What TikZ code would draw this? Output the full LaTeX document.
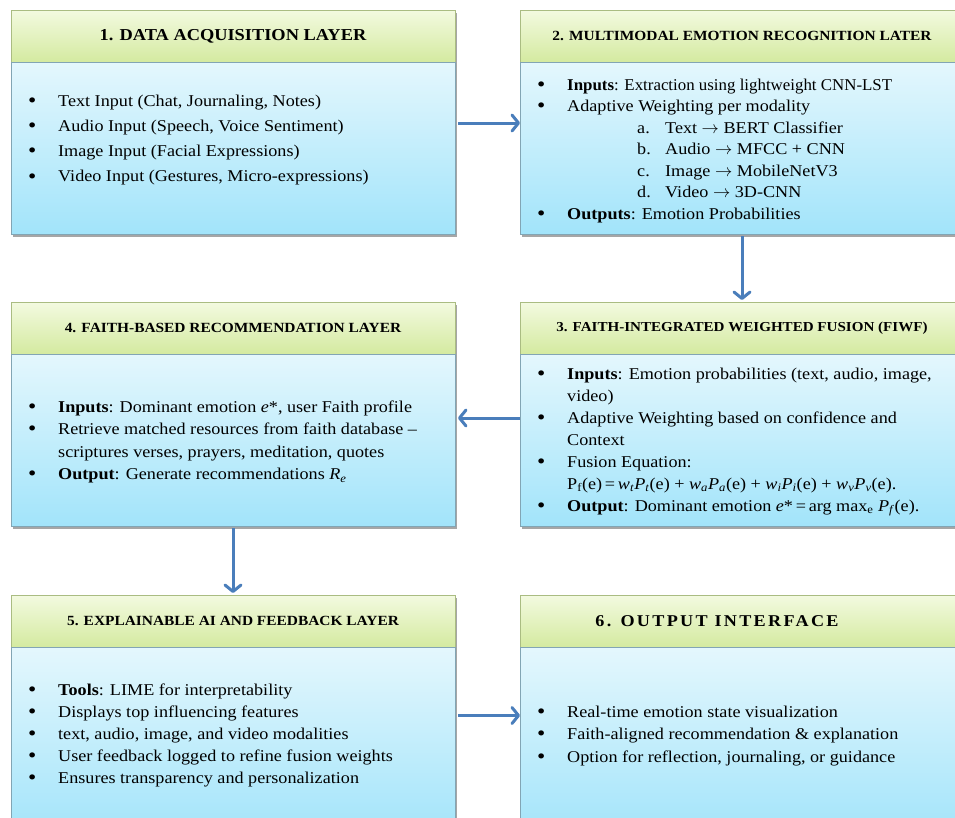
\documentclass[tikz,border=0pt]{standalone}
\usepackage{fontspec}
\setmainfont[FakeStretch=1.1]{Liberation Serif}
\usetikzlibrary{arrows.meta,shadows}

\definecolor{headTop}{RGB}{243,250,224}
\definecolor{headBot}{RGB}{212,234,160}
\definecolor{headLine}{RGB}{170,188,130}
\definecolor{bodyTop}{RGB}{228,247,253}
\definecolor{bodyBot}{RGB}{162,228,250}
\definecolor{bodyLine}{RGB}{130,165,180}
\definecolor{flowBlue}{RGB}{74,126,187}

\newcommand{\bul}{\makebox[30pt][l]{\raisebox{-0.07em}{\scalebox{1.3}{\textbullet}}}}
\newcommand{\cont}{\hspace*{30pt}}
\newcommand{\subitm}[1]{\hspace*{100pt}\makebox[28pt][l]{#1}}
\newcommand{\tto}{$\rightarrow$}
\newcommand{\lst}[2]{\fontsize{16.5}{#1}\selectfont\begin{tabular}[t]{@{}l@{}}#2\end{tabular}}

\begin{document}
\begin{tikzpicture}[x=1pt, y=-1pt]
    \tikzset{
      boxshadow/.style={drop shadow={shadow xshift=1.5pt, shadow yshift=-2.5pt, opacity=0.35, fill=black}},
      head/.style={draw=headLine, line width=0.8pt, top color=headTop, bottom color=headBot,
        minimum width=444pt, minimum height=52pt, inner sep=0pt, outer sep=0pt,
        anchor=north west, boxshadow},
      body/.style={draw=bodyLine, line width=0.8pt, top color=bodyTop, bottom color=bodyBot,
        minimum width=444pt, inner sep=0pt, outer sep=0pt, anchor=north west, boxshadow},
      list/.style={inner sep=0pt, anchor=base west},
      flow/.style={draw=flowBlue, line width=3pt, -{Straight Barb[round, length=6.5pt, width=16pt]}}
    }
    \useasboundingbox[fill=white] (0,0) rectangle (955,817);

    \node[head, font=\bfseries\fontsize{16.7}{20}\selectfont] (acqHead) at (11,10) {1. DATA ACQUISITION LAYER};
    \node[body, minimum height=172pt] (acqBody) at (acqHead.south west) {};
    \node[list] (acqText) at ([shift={(17pt,-44pt)}]acqBody.north west) {\lst{25.3pt}{%
      \bul Text Input (Chat, Journaling, Notes)\\
      \bul Audio Input (Speech, Voice Sentiment)\\
      \bul Image Input (Facial Expressions)\\
      \bul Video Input (Gestures, Micro-expressions)}};

    \node[head, font=\bfseries\fontsize{14}{17}\selectfont] (merHead) at (520,10) {2. MULTIMODAL EMOTION RECOGNITION LATER};
    \node[body, minimum height=172pt] (merBody) at (merHead.south west) {};
    \node[list] (merText) at ([shift={(17pt,-28pt)}]merBody.north west) {\lst{21.5pt}{%
      \bul\scalebox{0.93}[1]{\textbf{Inputs}: Extraction using lightweight CNN-LST}\\
      \bul Adaptive Weighting per modality\\
      \subitm{a.}Text \tto\ BERT Classifier\\
      \subitm{b.}Audio \tto\ MFCC + CNN\\
      \subitm{c.}Image \tto\ MobileNetV3\\
      \subitm{d.}Video \tto\ 3D-CNN\\
      \bul\textbf{Outputs}: Emotion Probabilities}};

    \node[head, font=\bfseries\fontsize{13.7}{17}\selectfont] (fiwfHead) at (520,302) {3. FAITH-INTEGRATED WEIGHTED FUSION (FIWF)};
    \node[body, minimum height=172pt] (fiwfBody) at (fiwfHead.south west) {};
    \node[list] (fiwfText) at ([shift={(17pt,-25pt)}]fiwfBody.north west) {\lst{22pt}{%
      \bul\textbf{Inputs}: Emotion probabilities (text, audio, image,\\
      \cont video)\\
      \bul Adaptive Weighting based on confidence and\\
      \cont Context\\
      \bul Fusion Equation:\\
      \cont P\textsubscript{f}(e)\,=\,\textit{w}\textsubscript{\textit{t}}\textit{P}\textsubscript{\textit{t}}(e) + \textit{w}\textsubscript{\textit{a}}\textit{P}\textsubscript{\textit{a}}(e) + \textit{w}\textsubscript{\textit{i}}\textit{P}\textsubscript{\textit{i}}(e) + \textit{w}\textsubscript{\textit{v}}\textit{P}\textsubscript{\textit{v}}(e).\\
      \bul\textbf{Output}: Dominant emotion \textit{e}*\,=\,arg max\textsubscript{e} \textit{P}\textsubscript{\textit{f}}(e).}};

    \node[head, font=\bfseries\fontsize{14}{17}\selectfont] (recHead) at (11,302) {4. FAITH-BASED RECOMMENDATION LAYER};
    \node[body, minimum height=172pt] (recBody) at (recHead.south west) {};
    \node[list] (recText) at ([shift={(17pt,-58pt)}]recBody.north west) {\lst{22.5pt}{%
      \bul\textbf{Inputs}: Dominant emotion \textit{e}*, user Faith profile\\
      \bul Retrieve matched resources from faith database –\\
      \cont scriptures verses, prayers, meditation, quotes\\
      \bul\textbf{Output}: Generate recommendations \textit{R}\textsubscript{\textit{e}}}};

    \node[head, font=\bfseries\fontsize{14}{17}\selectfont] (xaiHead) at (11,595) {5. EXPLAINABLE AI AND FEEDBACK LAYER};
    \node[body, minimum height=190pt] (xaiBody) at (xaiHead.south west) {};
    \node[list] (xaiText) at ([shift={(17pt,-48pt)}]xaiBody.north west) {\lst{22pt}{%
      \bul\textbf{Tools}: LIME for interpretability\\
      \bul Displays top influencing features\\
      \bul text, audio, image, and video modalities\\
      \bul User feedback logged to refine fusion weights\\
      \bul Ensures transparency and personalization}};

    \node[head, label={[font=\bfseries\fontsize{16.5}{20}\selectfont\addfontfeature{LetterSpace=14}, xshift=-25pt]center:6. OUTPUT INTERFACE}] (outHead) at (520,595) {};
    \node[body, minimum height=190pt] (outBody) at (outHead.south west) {};
    \node[list] (outText) at ([shift={(17pt,-70pt)}]outBody.north west) {\lst{22.5pt}{%
      \bul Real-time emotion state visualization\\
      \bul Faith-aligned recommendation \& explanation\\
      \bul Option for reflection, journaling, or guidance}};

    \draw[flow, shorten <=3pt] ([yshift=25pt]acqBody.east) -- ([yshift=25pt]merBody.west);
    \draw[flow, shorten <=2pt, shorten >=2pt] (merBody.south) -- (fiwfHead.north);
    \draw[flow, shorten >=3pt] ([yshift=22pt]fiwfBody.west) -- ([yshift=22pt]recBody.east);
    \draw[flow, shorten <=2pt, shorten >=2pt] (recBody.south) -- (xaiHead.north);
    \draw[flow, shorten <=3pt] ([yshift=26.5pt]xaiBody.east) -- ([yshift=26.5pt]outBody.west);
\end{tikzpicture}
\end{document}
